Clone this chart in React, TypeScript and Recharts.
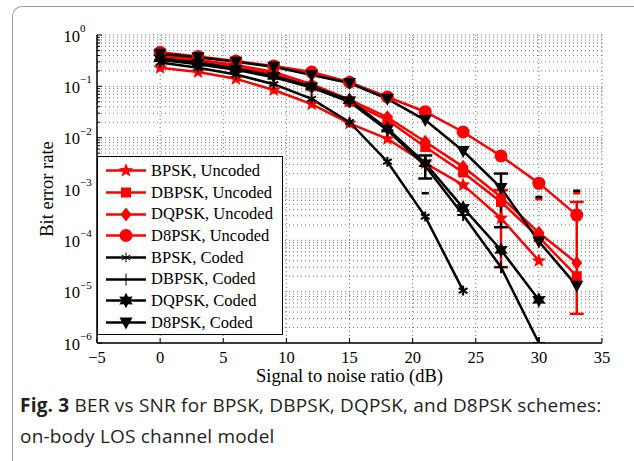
import React from "react";
import {
  LineChart,
  Line,
  XAxis,
  YAxis,
  CartesianGrid,
  Legend,
  ErrorBar,
  Scatter,
} from "recharts";

// SNR points (dB)
const snr = [0, 3, 6, 9, 12, 15, 18, 21, 24, 27, 30, 33];

// bit error rate per scheme (null = not measured)
const bpskUncoded = [0.23, 0.19, 0.14, 0.085, 0.045, 0.019, 0.0095, 0.0032, 0.0012, 2.7e-4, 4e-5, null];
const dbpskUncoded = [0.38, 0.31, 0.24, 0.17, 0.1, 0.05, 0.022, 0.0066, 0.0021, 5.6e-4, 1.15e-4, 2e-5];
const dqpskUncoded = [0.4, 0.33, 0.26, 0.19, 0.11, 0.055, 0.025, 0.0083, 0.0027, 7e-4, 1.4e-4, 3.6e-5];
const d8pskUncoded = [0.46, 0.38, 0.31, 0.25, 0.19, 0.12, 0.062, 0.032, 0.0129, 0.0044, 0.0013, 3.1e-4];
const bpskCoded = [0.29, 0.23, 0.17, 0.11, 0.057, 0.02, 0.0034, 2.9e-4, 1.05e-5, null, null, null];
const dbpskCoded = [0.33, 0.27, 0.21, 0.15, 0.095, 0.05, 0.014, 0.0028, 3.1e-4, 3e-5, 1e-6, null];
const dqpskCoded = [0.35, 0.29, 0.22, 0.16, 0.1, 0.054, 0.015, 0.0032, 4.3e-4, 6.5e-5, 6.9e-6, null];
const d8pskCoded = [0.43, 0.37, 0.3, 0.24, 0.166, 0.116, 0.057, 0.022, 0.0055, 0.00105, 9.5e-5, 1.3e-5];

// error bar bounds [low, high] (null = none)
const d8pskUncodedBounds = [null, null, null, null, null, null, null, null, null, null, null, [3.7e-6, 5.6e-4]];
const dbpskUncodedBounds = [null, null, null, null, null, null, null, null, null, [3e-5, 9.5e-4], null, null];
const d8pskCodedBounds = [null, null, null, null, null, null, null, null, null, [1.8e-4, 2e-3], null, null];
const dbpskCodedBounds = [null, null, null, null, null, null, null, [1.6e-3, 4.5e-3], null, null, null, null];

// loose error bar caps (lower end off the log axis)
const blackCapX = [21, 24, 30, 30, 33];
const blackCapY = [8.3e-4, 1.15e-3, 1.05e-3, 7e-4, 9.2e-4];
const redCapX = [30, 33];
const redCapY = [6.3e-4, 8.3e-4];

const xTicks = [-5, 0, 5, 10, 15, 20, 25, 30, 35];
const decades = [1e-6, 1e-5, 1e-4, 1e-3, 1e-2, 1e-1, 1];
const yTicks = decades.flatMap((d) =>
  d === 1 ? [1] : [1, 2, 3, 4, 5, 6, 7, 8, 9].map((m) => +(m * d).toPrecision(3))
);

const RED = "#ff0000";
const BLACK = "#000000";
const SERIF = "'Liberation Serif', 'Times New Roman', serif";

const series = [
  { key: "bpskU", name: "BPSK, Uncoded", values: bpskUncoded, color: RED, shape: "star" },
  { key: "dbpskU", name: "DBPSK, Uncoded", values: dbpskUncoded, color: RED, shape: "square" },
  { key: "dqpskU", name: "DQPSK, Uncoded", values: dqpskUncoded, color: RED, shape: "diamond" },
  { key: "d8pskU", name: "D8PSK, Uncoded", values: d8pskUncoded, color: RED, shape: "circle" },
  { key: "bpskC", name: "BPSK, Coded", values: bpskCoded, color: BLACK, shape: "asterisk" },
  { key: "dbpskC", name: "DBPSK, Coded", values: dbpskCoded, color: BLACK, shape: "plus" },
  { key: "dqpskC", name: "DQPSK, Coded", values: dqpskCoded, color: BLACK, shape: "hexagram" },
  { key: "d8pskC", name: "D8PSK, Coded", values: d8pskCoded, color: BLACK, shape: "triangle" },
];

const bounds: Record<string, (number[] | null)[]> = {
  d8pskU: d8pskUncodedBounds,
  dbpskU: dbpskUncodedBounds,
  d8pskC: d8pskCodedBounds,
  dbpskC: dbpskCodedBounds,
};

const data = snr.map((x, i) => {
  const row: any = { snr: x };
  series.forEach((s) => {
    row[s.key] = s.values[i];
    const b = bounds[s.key];
    if (b && b[i] && s.values[i] != null) {
      const v = s.values[i] as number;
      row[s.key + "Err"] = [v - b[i]![0], b[i]![1] - v];
    }
  });
  return row;
});

const blackCaps = blackCapX.map((x, i) => ({ snr: x, v: blackCapY[i] }));
const redCaps = redCapX.map((x, i) => ({ snr: x, v: redCapY[i] }));

function starPoints(cx: number, cy: number, R: number, r: number, n: number, rot: number) {
  const pts: string[] = [];
  for (let i = 0; i < 2 * n; i++) {
    const rad = i % 2 === 0 ? R : r;
    const a = rot + (Math.PI * i) / n;
    pts.push(`${cx + rad * Math.sin(a)},${cy - rad * Math.cos(a)}`);
  }
  return pts.join(" ");
}

function Marker({ shape, cx, cy, color, thin }: any) {
  if (cx == null || cy == null || isNaN(cx) || isNaN(cy)) return null;
  switch (shape) {
    case "star":
      return <polygon points={starPoints(cx, cy, 7.5, 3.2, 5, 0)} fill={color} />;
    case "square":
      return <rect x={cx - 5} y={cy - 5} width={10} height={10} fill={color} />;
    case "diamond":
      return <polygon points={`${cx},${cy - 7} ${cx + 5.5},${cy} ${cx},${cy + 7} ${cx - 5.5},${cy}`} fill={color} />;
    case "circle":
      return <circle cx={cx} cy={cy} r={6.5} fill={color} />;
    case "asterisk": {
      const r = 5;
      const w = thin ? 1 : 2;
      return (
        <g stroke={color} strokeWidth={w}>
          <line x1={cx} y1={cy - r} x2={cx} y2={cy + r} />
          <line x1={cx - r * 0.87} y1={cy - r / 2} x2={cx + r * 0.87} y2={cy + r / 2} />
          <line x1={cx - r * 0.87} y1={cy + r / 2} x2={cx + r * 0.87} y2={cy - r / 2} />
        </g>
      );
    }
    case "plus": {
      const r = 6;
      const w = thin ? 1 : 2;
      return (
        <g stroke={color} strokeWidth={w}>
          <line x1={cx} y1={cy - r} x2={cx} y2={cy + r} />
          <line x1={cx - r} y1={cy} x2={cx + r} y2={cy} />
        </g>
      );
    }
    case "hexagram":
      return <polygon points={starPoints(cx, cy, 7.8, 4.2, 6, 0)} fill={color} />;
    case "triangle":
      return <polygon points={`${cx - 6.5},${cy - 5} ${cx + 6.5},${cy - 5} ${cx},${cy + 7}`} fill={color} />;
    default:
      return null;
  }
}

const dotFor = (shape: string, color: string) => (props: any) => (
  <Marker key={`${shape}-${props.index}`} shape={shape} cx={props.cx} cy={props.cy} color={color} />
);

const CapShape = (color: string) => (props: any) => (
  <line
    x1={props.cx - 3.5}
    x2={props.cx + 3.5}
    y1={props.cy}
    y2={props.cy}
    stroke={color}
    strokeWidth={2.5}
  />
);

const supMinus = (n: number) => (n < 0 ? "\u2212" + Math.abs(n) : String(n));

const isDecade = (v: number) => decades.some((d) => Math.abs(v - d) / d < 1e-6);

const LeftTick = ({ x, y, payload }: any) => {
  const v = payload.value;
  const major = isDecade(v);
  return (
    <g>
      <line x1={x} x2={x + (major ? 5 : 3)} y1={y} y2={y} stroke="#000" strokeWidth={1} />
      {major && (
        <g fontFamily={SERIF} fill="#000">
          <text x={x - 17} y={y + 6.5} textAnchor="end" fontSize={16.5}>
            10
          </text>
          <text x={x - 17} y={y - 3} textAnchor="start" fontSize={11}>
            {supMinus(Math.round(Math.log10(v)))}
          </text>
        </g>
      )}
    </g>
  );
};

const RightTick = ({ x, y, payload }: any) => {
  const major = isDecade(payload.value);
  return <line x1={x} x2={x - (major ? 5 : 3)} y1={y} y2={y} stroke="#000" strokeWidth={1} />;
};

const BottomTick = ({ x, y, payload }: any) => (
  <g>
    <line x1={x} x2={x} y1={y} y2={y - 5} stroke="#000" strokeWidth={1} />
    <text x={x} y={y + 20} textAnchor="middle" fontFamily={SERIF} fontSize={16.5} fill="#000">
      {payload.value < 0 ? "\u2212" + Math.abs(payload.value) : payload.value}
    </text>
  </g>
);

const TopTick = ({ x, y }: any) => (
  <line x1={x} x2={x} y1={y} y2={y + 5} stroke="#000" strokeWidth={1} />
);

const LegendBox = () => (
  <div
    style={{
      width: 186,
      height: 179,
      boxSizing: "border-box",
      border: "1.2px solid #000",
      background: "#fff",
      paddingTop: 3,
    }}
  >
    {series.map((s) => (
      <div key={s.key} style={{ height: 21.7, display: "flex", alignItems: "center" }}>
        <svg width={53} height={21} style={{ flex: "none" }}>
          <line x1={8} x2={48} y1={10.5} y2={10.5} stroke={s.color} strokeWidth={2.5} />
          <Marker shape={s.shape} cx={28} cy={10.5} color={s.color} thin />
        </svg>
        <span style={{ fontFamily: SERIF, fontSize: 16.5, color: "#000", whiteSpace: "nowrap" }}>{s.name}</span>
      </div>
    ))}
  </div>
);

export default function App() {
  return (
    <div
      style={{
        position: "absolute",
        left: 0,
        top: 0,
        width: 634,
        height: 461,
        background: "#fff",
        overflow: "hidden",
      }}
    >
      <div
        style={{
          position: "absolute",
          left: 12,
          top: 6,
          width: 660,
          height: 470,
          borderTop: "1.5px solid #9a9a9a",
          borderLeft: "1.5px solid #9a9a9a",
          borderTopLeftRadius: 10,
        }}
      />
      <div style={{ position: "absolute", left: 0, top: 0 }}>
        <LineChart width={634} height={400} data={data} margin={{ top: 35, right: 32, bottom: 0, left: 0 }}>
          <CartesianGrid stroke="#555" strokeWidth={0.8} strokeDasharray="1 3" />
          <XAxis
            dataKey="snr"
            type="number"
            domain={[-5, 35]}
            ticks={xTicks}
            interval={0}
            height={57}
            tickSize={0}
            tickMargin={0}
            tickLine={false}
            tick={<BottomTick />}
            axisLine={{ stroke: "#000", strokeWidth: 1.5 }}
            label={{
              value: "Signal to noise ratio (dB)",
              position: "insideBottom",
              offset: 18,
              style: { fontFamily: SERIF, fontSize: 18.5, fill: "#000" },
            }}
          />
          <XAxis
            xAxisId="top"
            orientation="top"
            type="number"
            domain={[-5, 35]}
            ticks={xTicks}
            interval={0}
            height={0}
            tickSize={0}
            tickMargin={0}
            tickLine={false}
            tick={<TopTick />}
            axisLine={{ stroke: "#000", strokeWidth: 1.5 }}
          />
          <YAxis
            type="number"
            scale="log"
            domain={[1e-6, 1]}
            allowDataOverflow
            ticks={yTicks}
            interval={0}
            width={97}
            tickSize={0}
            tickMargin={0}
            tickLine={false}
            tick={<LeftTick />}
            axisLine={{ stroke: "#000", strokeWidth: 1.5 }}
            label={{
              value: "Bit error rate",
              angle: -90,
              position: "insideLeft",
              offset: 46,
              style: { fontFamily: SERIF, fontSize: 18.5, fill: "#000", textAnchor: "middle" },
            }}
          />
          <YAxis
            yAxisId="right"
            orientation="right"
            type="number"
            scale="log"
            domain={[1e-6, 1]}
            allowDataOverflow
            ticks={yTicks}
            interval={0}
            width={0}
            tickSize={0}
            tickMargin={0}
            tickLine={false}
            tick={<RightTick />}
            axisLine={{ stroke: "#000", strokeWidth: 1.5 }}
          />
          {series.map((s) => (
            <Line
              key={s.key}
              dataKey={s.key}
              name={s.name}
              type="linear"
              stroke={s.color}
              strokeWidth={2.5}
              dot={dotFor(s.shape, s.color)}
              activeDot={false}
              isAnimationActive={false}
              connectNulls={false}
            >
              {bounds[s.key] && (
                <ErrorBar
                  dataKey={s.key + "Err"}
                  direction="y"
                  width={7}
                  stroke={s.color}
                  strokeWidth={2.5}
                  isAnimationActive={false}
                />
              )}
            </Line>
          ))}
          <Scatter data={redCaps} dataKey="v" shape={CapShape(RED)} isAnimationActive={false} legendType="none" />
          <Scatter data={blackCaps} dataKey="v" shape={CapShape(BLACK)} isAnimationActive={false} legendType="none" />
          <Legend
            layout="vertical"
            align="center"
            verticalAlign="middle"
            content={<LegendBox />}
            wrapperStyle={{ left: 97, top: 156, width: 186, height: 179 }}
          />
        </LineChart>
      </div>
      <div
        style={{
          position: "absolute",
          left: 20,
          top: 390,
          width: 614,
          fontFamily: "'Open Sans', 'Noto Sans', sans-serif",
          fontSize: 19,
          letterSpacing: 0.2,
          lineHeight: "31px",
          color: "#231f20",
          whiteSpace: "nowrap",
        }}
      >
        <span style={{ fontWeight: 700 }}>Fig. 3</span> BER vs SNR for BPSK, DBPSK, DQPSK, and D8PSK schemes:
        <br />
        on-body LOS channel model
      </div>
    </div>
  );
}
